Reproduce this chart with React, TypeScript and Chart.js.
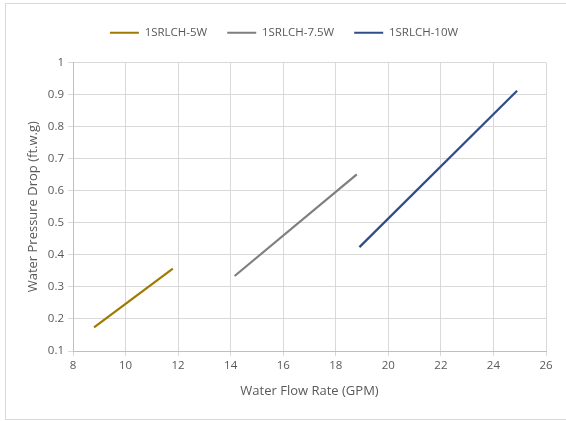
import React, { useEffect, useRef } from "react";
import { Chart, registerables } from "chart.js";

Chart.register(...registerables);

const seriesNames = ["1SRLCH-5W", "1SRLCH-7.5W", "1SRLCH-10W"];
const seriesColors = ["#A07A00", "#7F7F7F", "#2F4E87"];
const flow5W = [8.8, 11.8];
const drop5W = [0.174, 0.357];
const flow75W = [14.15, 18.8];
const drop75W = [0.334, 0.651];
const flow10W = [18.9, 24.9];
const drop10W = [0.424, 0.912];
const xTitle = "Water Flow Rate (GPM)";
const yTitle = "Water Pressure Drop (ft.w.g)";

const FONT = "'Open Sans', 'Liberation Sans', sans-serif";
const TEXT = "#595959";

const legendGap = {
  id: "legendGap",
  beforeLayout(chart: any) {
    const lg = chart.legend;
    if (lg && !lg._gapPatched) {
      const orig = lg.fit.bind(lg);
      lg.fit = function () {
        orig();
        this.height += 14;
      };
      lg._gapPatched = true;
    }
  },
};

export default function App() {
  const ref = useRef<HTMLCanvasElement | null>(null);
  useEffect(() => {
    document.body.style.margin = "0";
    const toPts = (xs: number[], ys: number[]) => xs.map((x, i) => ({ x, y: ys[i] }));
    const data = [toPts(flow5W, drop5W), toPts(flow75W, drop75W), toPts(flow10W, drop10W)];
    const chart = new Chart(ref.current!, {
      type: "scatter",
      data: {
        datasets: seriesNames.map((name, i) => ({
          label: name,
          data: data[i],
          showLine: true,
          borderColor: seriesColors[i],
          backgroundColor: seriesColors[i],
          borderWidth: 2.25,
          pointRadius: 0,
          pointHoverRadius: 0,
          tension: 0,
        })),
      },
      plugins: [legendGap],
      options: {
        animation: false,
        responsive: false,
        layout: { padding: { left: 22, right: 20, top: 7, bottom: 18 } },
        plugins: {
          tooltip: { enabled: false },
          legend: {
            position: "top",
            labels: {
              font: { family: FONT, size: 11.5 },
              color: TEXT,
              boxWidth: 29,
              boxHeight: 2,
              padding: 20,
              generateLabels: (c: any) =>
                c.data.datasets.map((d: any, i: number) => ({
                  text: d.label,
                  fillStyle: d.borderColor,
                  strokeStyle: d.borderColor,
                  lineWidth: 0,
                  fontColor: TEXT,
                  hidden: false,
                  datasetIndex: i,
                })),
            },
          },
        },
        scales: {
          x: {
            type: "linear",
            min: 8,
            max: 26,
            ticks: { stepSize: 2, color: TEXT, font: { family: FONT, size: 11.5 }, padding: 3, maxRotation: 0 },
            grid: { color: "#D9D9D9", tickLength: 5, tickColor: "#D9D9D9" },
            border: { color: "#BFBFBF" },
            title: { display: true, text: xTitle, color: TEXT, font: { family: FONT, size: 13 }, padding: { top: 4, bottom: 4 } },
            afterFit: (s: any) => { s.height = 421 - 351 - 18; },
          },
          y: {
            type: "linear",
            min: 0.1,
            max: 1,
            ticks: {
              stepSize: 0.1,
              color: TEXT,
              font: { family: FONT, size: 11.5 },
              padding: 4,
              callback: (v: any) => String(Math.round(Number(v) * 10) / 10),
            },
            grid: { color: "#D9D9D9", tickLength: 5, tickColor: "#D9D9D9" },
            border: { color: "#BFBFBF" },
            title: { display: true, text: yTitle, color: TEXT, font: { family: FONT, size: 13 }, padding: { top: 3, bottom: 2 } },
            afterFit: (s: any) => { s.width = 73 - 22; },
          },
        },
      },
    });
    return () => chart.destroy();
  }, []);
  return (
    <div style={{ position: "relative", width: 566, height: 421 }}>
      <canvas ref={ref} width={566} height={421} style={{ display: "block" }} />
      <div
        style={{
          position: "absolute",
          left: 5,
          top: 3,
          width: 570,
          height: 415,
          border: "1px solid #D9D9D9",
          pointerEvents: "none",
        }}
      />
    </div>
  );
}
